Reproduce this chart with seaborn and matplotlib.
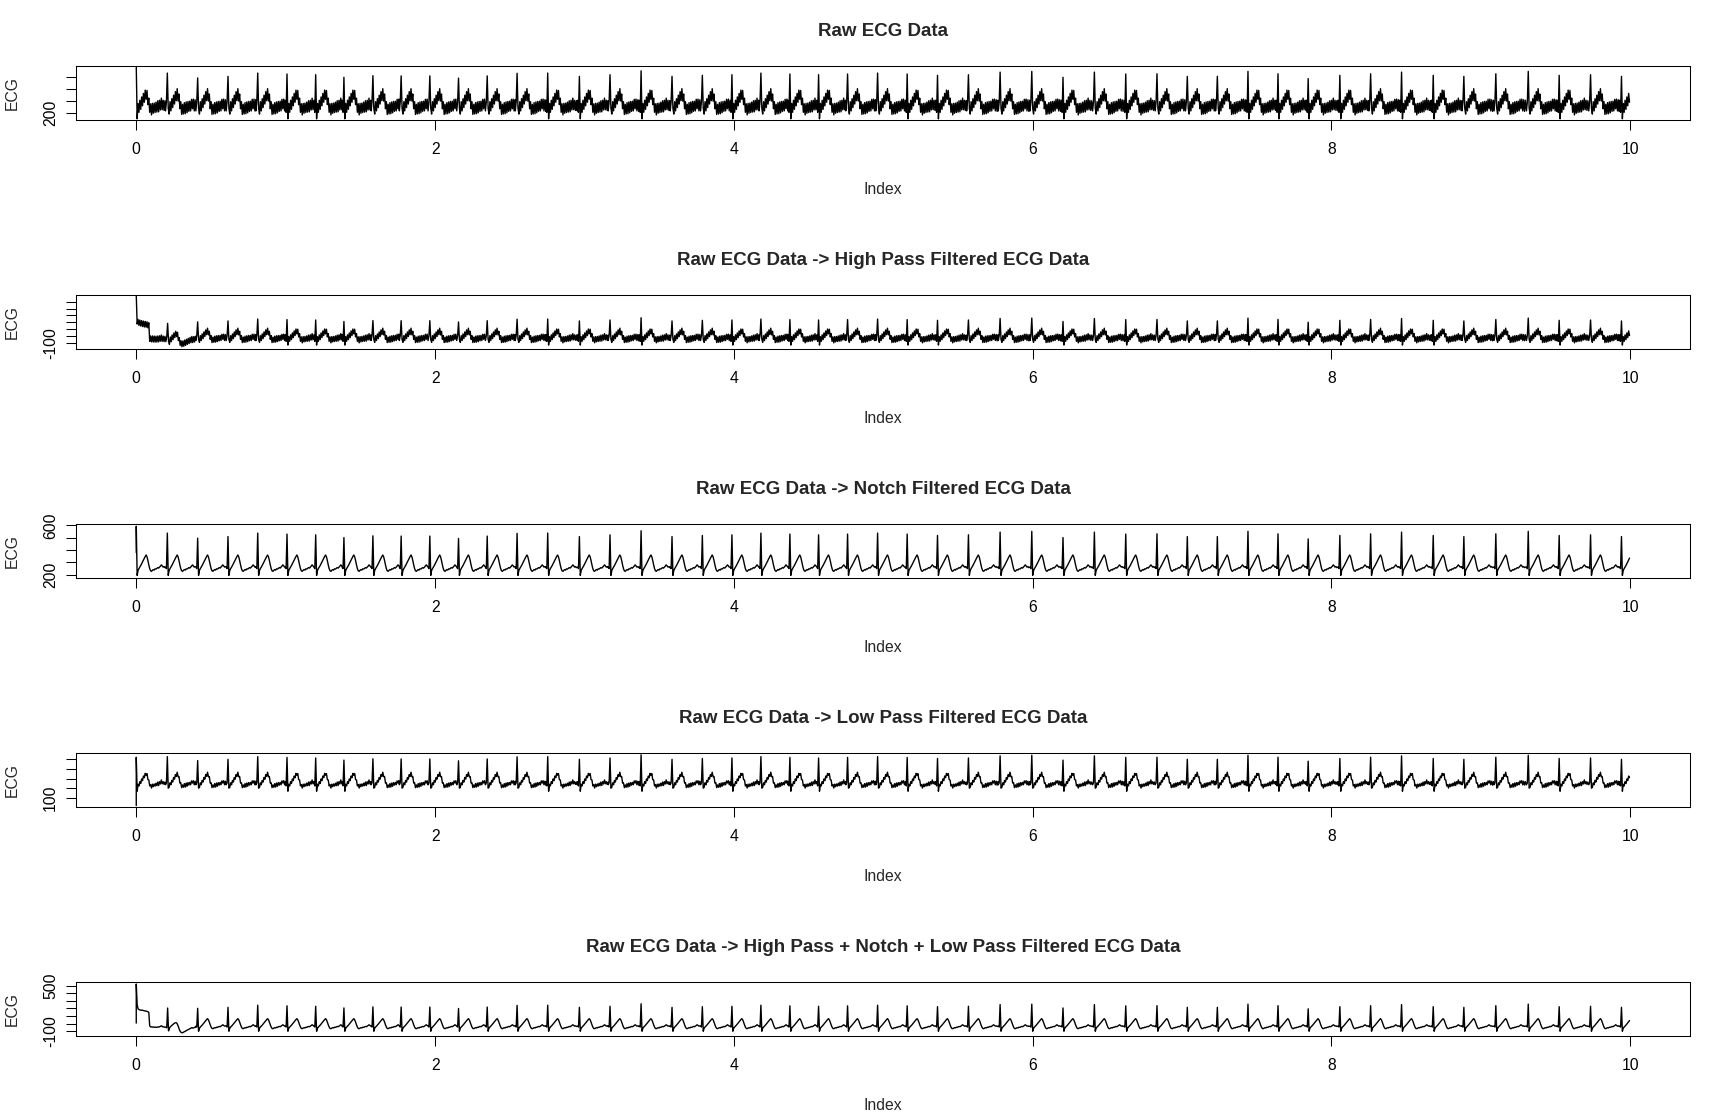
import numpy as np
import pandas as pd
import seaborn as sns
import matplotlib.pyplot as plt

sns.set_theme(style="white")
plt.rcParams['font.family'] = ['Liberation Sans', 'DejaVu Sans']
plt.rcParams['axes.edgecolor'] = 'black'
plt.rcParams['axes.linewidth'] = 0.75

# R-peak times (x axis units)
beat_times = [0.000, 0.208, 0.411, 0.614, 0.813, 1.009, 1.201, 1.390, 1.584, 1.773,
              1.965, 2.157, 2.349, 2.549, 2.754, 2.966, 3.171, 3.379, 3.586, 3.789,
              3.987, 4.181, 4.375, 4.567, 4.761, 4.962, 5.160, 5.363, 5.570, 5.782,
              5.994, 6.203, 6.413, 6.623, 6.832, 7.035, 7.236, 7.441, 7.642, 7.844,
              8.056, 8.262, 8.469, 8.681, 8.886, 9.100, 9.317, 9.524, 9.734, 9.941]

# R-peak heights
beat_heights = [592, 537, 496, 509, 537, 529, 523, 501, 515, 513,
                513, 494, 513, 535, 537, 509, 523, 556, 509, 518,
                523, 537, 529, 523, 529, 537, 529, 518, 523, 545,
                551, 501, 545, 529, 531, 509, 509, 551, 531, 490,
                518, 531, 545, 518, 509, 531, 551, 518, 523, 509]

# one beat of the notch trace, a value every 0.006 starting 0.012 before the R peak (None = R peak)
step = 0.006
beat_shape = [262, 250, None, 195, 235, 250, 262, 275, 290, 305,
              320, 335, 348, 360, 345, 315, 280, 250, 232, 228,
              236, 242, 238, 248, 246, 252, 258, 254, 262, 270,
              280, 272, 262, 266, 258, 262]

# first two beats of the high pass / combined traces (filter start-up), a value every 0.006 from 0
hp_lead = [555, 215, 200, 195, 190, 186, 182, 178, 175, 172,
           170, 168, 165, 160, 150, -40, -45, -48, -44, -50,
           -46, -52, -48, -50, -45, -48, -42, -38, -30, -40,
           -46, -44, -50, -45, -58, 225, -120, -85, -60, -45,
           -30, -15, 0, 15, 25, 30, 10, -30, -70, -100,
           -115, -120, -118, -112, -105, -100, -92, -85, -80, -72,
           -66, -60, -52, -58, -55, -50, -48]
comb_lead = [521, 250, 195, 185, 180, 178, 175, 176, 172, 168,
             165, 166, 160, 156, 148, -30, -44, -42, -46, -44,
             -48, -45, -50, -47, -44, -46, -40, -36, -28, -38,
             -44, -42, -48, -45, -55, 205, -95, -60, -42, -30,
             -20, -10, 0, 8, 12, 10, -10, -40, -75, -100,
             -115, -120, -118, -110, -104, -98, -90, -84, -78, -72,
             -66, -60, -52, -58, -56, -50, -48]

titles = ["Raw ECG Data",
          "Raw ECG Data -> High Pass Filtered ECG Data",
          "Raw ECG Data -> Notch Filtered ECG Data",
          "Raw ECG Data -> Low Pass Filtered ECG Data",
          "Raw ECG Data -> High Pass + Notch + Low Pass Filtered ECG Data"]
offsets = [0, -290, 0, -10, -295]
hum = [45, 42, 0, 16, 0]          # half height of the mains-hum band
start_vals = [None, None, 380, 20, 7]
first_peak = [None, None, None, 520, None]
leads = [None, hp_lead, None, None, comb_lead]

ylims = [(141.7, 594), (-192, 597), (175.5, 608), (7.7, 561.5), (-160, 543)]
yticks = [[200, 300, 400, 500],
          [-100, 0, 100, 200, 300, 400, 500],
          [200, 300, 400, 500, 600],
          [100, 200, 300, 400, 500],
          [-100, 0, 100, 200, 300, 400, 500]]
yticklabels = [["200", "", "", ""],
               ["-100", "", "", "", "", "", ""],
               ["200", "", "", "", "600"],
               ["100", "", "", "", ""],
               ["-100", "", "", "", "", "", "500"]]
xticks = [0, 2, 4, 6, 8, 10]


def build_trace(p):
    ts, vs = [], []
    n = 0
    if start_vals[p] is not None:
        ts.append(0.0)
        vs.append(start_vals[p])
    lead_end = -1.0
    if leads[p] is not None:
        for k, v in enumerate(leads[p]):
            sign = 1 if n % 2 == 0 else -1
            ts.append(k * step)
            vs.append(v + hum[p] * sign)
            n += 1
        lead_end = (len(leads[p]) - 1) * step
    for i, (r, h) in enumerate(zip(beat_times, beat_heights)):
        if r <= lead_end:
            continue
        if i == 0 and first_peak[p] is not None:
            h = first_peak[p] - offsets[p]
        nxt = beat_times[i + 1] - 2 * step if i + 1 < len(beat_times) else 10.0 + step
        for k, v in enumerate(beat_shape):
            t = r + (k - 2) * step
            if t < -1e-9 or t > nxt - 1e-9 or t > 10.0 + 1e-9:
                continue
            if v is None:
                val = h
            else:
                val = v + hum[p] * (1 if n % 2 == 0 else -1)
            ts.append(t)
            vs.append(val + offsets[p])
            n += 1
    return pd.DataFrame({'t': ts, 'ecg': vs})


fig = plt.figure(figsize=(17.14, 11.18), dpi=100)
bottoms = [0.89284, 0.68801, 0.48318, 0.27835, 0.07352]

for p in range(5):
    ax = fig.add_axes([0.04463, bottoms[p], 0.9414, 0.04785])
    df = build_trace(p)
    sns.lineplot(data=df, x='t', y='ecg', ax=ax, color='black', linewidth=1.0,
                 estimator=None, sort=False)
    ax.set_xlim(-0.4, 10.4)
    ax.set_ylim(*ylims[p])
    ax.set_xticks(xticks)
    ax.set_xticklabels([str(x) for x in xticks])
    ax.set_yticks(yticks[p])
    ax.set_yticklabels(yticklabels[p], rotation=90, va='center')
    ax.tick_params(axis='both', direction='out', length=7.2, width=0.75, color='black',
                   labelsize=11.3, labelcolor='black', left=True, bottom=True)
    ax.tick_params(axis='x', pad=8.5)
    ax.tick_params(axis='y', pad=6)
    for s in ax.spines.values():
        s.set_visible(True)
        s.set_color('black')
        s.set_linewidth(0.75)
    ax.set_title(titles[p], fontsize=13.5, fontweight='bold', pad=22)
    ax.set_xlabel('Index', fontsize=11.3)
    ax.set_ylabel('ECG', fontsize=11.3)
    ax.xaxis.set_label_coords(0.5, -1.157)
    ax.yaxis.set_label_coords(-0.035, 0.5)
    ax.grid(False)

fig.savefig('out.png', dpi=100)
